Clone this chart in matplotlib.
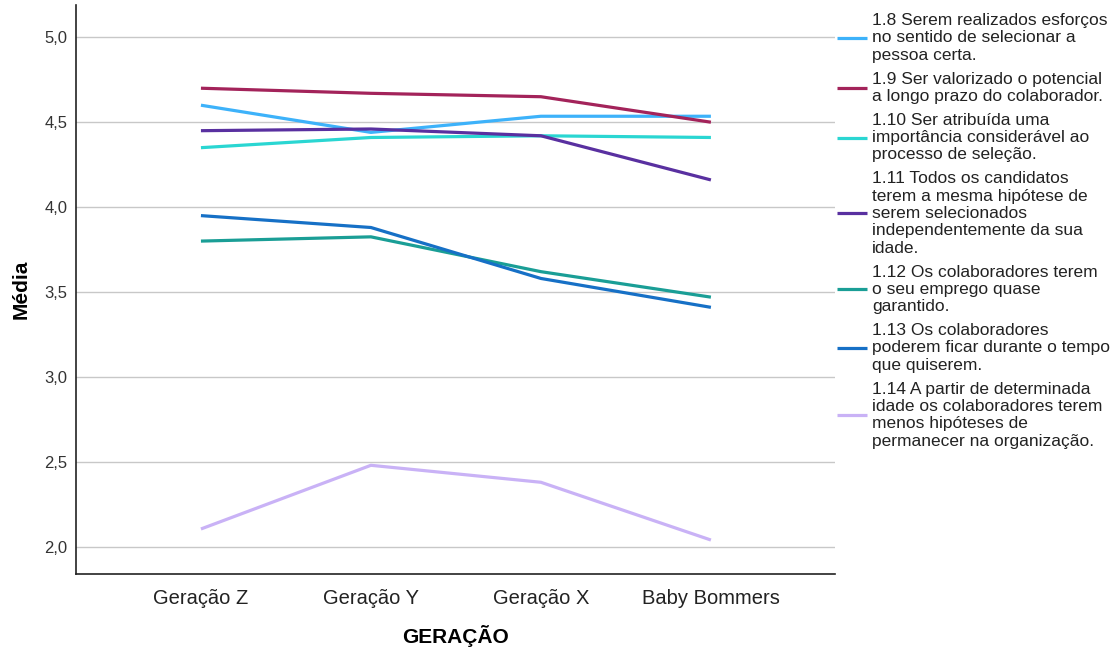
import matplotlib.pyplot as plt
import numpy as np

plt.rcParams['font.family'] = ['Liberation Sans', 'DejaVu Sans']

geracoes = ["Geração Z", "Geração Y", "Geração X", "Baby Bommers"]

# Médias por item e geração
v_18 = [4.60, 4.44, 4.535, 4.535]
v_19 = [4.70, 4.67, 4.65, 4.50]
v_110 = [4.35, 4.41, 4.42, 4.41]
v_111 = [4.45, 4.46, 4.42, 4.16]
v_112 = [3.80, 3.825, 3.62, 3.47]
v_113 = [3.95, 3.88, 3.58, 3.41]
v_114 = [2.105, 2.48, 2.38, 2.04]

labels = [
    "1.8 Serem realizados esforços\nno sentido de selecionar a\npessoa certa.",
    "1.9 Ser valorizado o potencial\na longo prazo do colaborador.",
    "1.10 Ser atribuída uma\nimportância considerável ao\nprocesso de seleção.",
    "1.11 Todos os candidatos\nterem a mesma hipótese de\nserem selecionados\nindependentemente da sua\nidade.",
    "1.12 Os colaboradores terem\no seu emprego quase\ngarantido.",
    "1.13 Os colaboradores\npoderem ficar durante o tempo\nque quiserem.",
    "1.14 A partir de determinada\nidade os colaboradores terem\nmenos hipóteses de\npermanecer na organização.",
]
series = [v_18, v_19, v_110, v_111, v_112, v_113, v_114]
colors = ["#3DB2FA", "#A3235A", "#2AD6D2", "#5930A0", "#1A9E96", "#1670C6", "#C9B2F6"]

fig = plt.figure(figsize=(11.15, 6.52), dpi=100)
ax = fig.add_axes([76/1115, 78/652, (835-76)/1115, (574-5)/652])

x = np.arange(len(geracoes))
for vals, lab, c in zip(series, labels, colors):
    ax.plot(x, vals, color=c, lw=2.3, label=lab, solid_capstyle='butt')

ax.set_xlim(-0.735, 3.73)
ax.set_ylim(1.84, 5.19)
ax.set_yticks([2.0, 2.5, 3.0, 3.5, 4.0, 4.5, 5.0])
ax.set_yticklabels(["2,0", "2,5", "3,0", "3,5", "4,0", "4,5", "5,0"], fontsize=12, color="#333333")
ax.set_xticks(x)
ax.set_xticklabels(geracoes, fontsize=14.5, color="#222222")
ax.tick_params(axis='x', length=0, pad=11)
ax.tick_params(axis='y', length=0, pad=6)
ax.yaxis.grid(True, color="#C8C8C8", lw=1)
ax.set_axisbelow(True)
for s in ["top", "right"]:
    ax.spines[s].set_visible(False)
for s in ["left", "bottom"]:
    ax.spines[s].set_color("#222222")
    ax.spines[s].set_linewidth(1.2)

ax.set_ylabel("Média", fontsize=15, fontweight='bold', labelpad=10)
ax.set_xlabel("GERAÇÃO", fontsize=15, fontweight='bold', labelpad=12)

leg = fig.legend(loc='upper left', bbox_to_anchor=(837/1115, 1 - 13/652),
                 frameon=False, fontsize=12.5, borderpad=0, borderaxespad=0,
                 handlelength=1.72, handletextpad=0.3, labelspacing=0.52)
for t in leg.get_texts():
    t.set_linespacing(1.19)
    t.set_color("#222222")

fig.savefig("out.png", dpi=100)
